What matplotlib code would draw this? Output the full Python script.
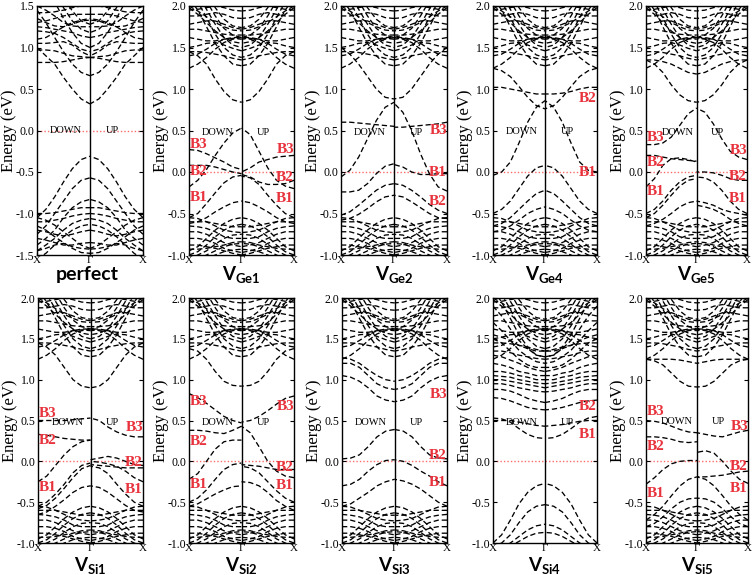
import matplotlib
matplotlib.use('Agg')
import matplotlib.pyplot as plt
from matplotlib.transforms import blended_transform_factory

plt.rcParams['mathtext.fontset'] = 'custom'
plt.rcParams['mathtext.rm'] = 'Lato:bold'
plt.rcParams['mathtext.it'] = 'Lato:bold'
plt.rcParams['mathtext.bf'] = 'Lato:bold'
plt.rcParams['axes.unicode_minus'] = False

# k-path sample points: fraction of the way from X (0) to Gamma (1)
K = [0, 1/6, 2/6, 3/6, 4/6, 5/6, 1]

# ---------------- band data (eV), each band listed X -> Gamma ----------------
PERFECT_CB = [
    [1.00, 0.90, 0.80, 0.64, 0.50, 0.38, 0.32],
    [0.82, 0.82, 0.82, 0.83, 0.85, 0.87, 0.88],
    [1.45, 1.30, 1.12, 0.95, 0.80, 0.70, 0.66],
    [0.97, 0.97, 0.96, 0.93, 0.90, 0.89, 0.88],
    [1.05, 1.05, 1.06, 1.07, 1.03, 0.95, 0.90],
    [1.20, 1.19, 1.17, 1.12, 1.05, 0.98, 0.95],
    [1.25, 1.24, 1.22, 1.20, 1.18, 1.14, 1.12],
    [1.90, 1.75, 1.55, 1.35, 1.18, 1.05, 1.00],
    [2.05, 1.88, 1.68, 1.48, 1.32, 1.22, 1.18],
    [2.20, 2.00, 1.80, 1.60, 1.44, 1.32, 1.28],
    [1.50, 1.45, 1.38, 1.30, 1.26, 1.25, 1.25],
    [1.30, 1.32, 1.35, 1.38, 1.40, 1.40, 1.40],
    [1.42, 1.42, 1.43, 1.45, 1.48, 1.50, 1.50],
    [1.10, 1.12, 1.18, 1.25, 1.30, 1.33, 1.35],
    [1.35, 1.30, 1.26, 1.25, 1.28, 1.32, 1.33],
]
PERFECT_VB = [
    [-1.05, -0.95, -0.80, -0.62, -0.46, -0.35, -0.31],
    [-1.25, -1.15, -1.00, -0.85, -0.70, -0.60, -0.57],
    [-1.38, -1.30, -1.20, -1.05, -0.93, -0.86, -0.83],
    [-1.00, -1.00, -0.99, -0.97, -0.95, -0.93, -0.93],
    [-1.10, -1.10, -1.08, -1.06, -1.03, -1.01, -1.00],
    [-1.45, -1.38, -1.30, -1.20, -1.12, -1.08, -1.06],
    [-1.55, -1.48, -1.38, -1.28, -1.20, -1.15, -1.13],
    [-1.20, -1.22, -1.25, -1.27, -1.25, -1.22, -1.20],
    [-1.30, -1.32, -1.35, -1.38, -1.38, -1.36, -1.35],
    [-1.45, -1.42, -1.38, -1.36, -1.40, -1.42, -1.43],
    [-1.15, -1.20, -1.28, -1.35, -1.42, -1.47, -1.48],
    [-1.05, -1.08, -1.14, -1.22, -1.30, -1.38, -1.42],
]

BG_CB = [
    [2.10, 1.95, 1.75, 1.55, 1.40, 1.30, 1.28],
    [2.20, 2.05, 1.86, 1.66, 1.50, 1.41, 1.38],
    [2.30, 2.15, 1.96, 1.78, 1.62, 1.53, 1.50],
    [2.40, 2.25, 2.06, 1.88, 1.73, 1.65, 1.62],
    [2.50, 2.35, 2.16, 1.98, 1.84, 1.76, 1.74],
    [1.45, 1.45, 1.44, 1.42, 1.40, 1.37, 1.35],
    [1.50, 1.52, 1.55, 1.56, 1.53, 1.49, 1.46],
    [1.72, 1.72, 1.70, 1.68, 1.66, 1.65, 1.65],
    [1.78, 1.80, 1.82, 1.82, 1.78, 1.74, 1.72],
    [1.88, 1.88, 1.90, 1.92, 1.90, 1.86, 1.85],
    [1.95, 1.96, 1.98, 2.00, 1.98, 1.95, 1.94],
    [1.62, 1.60, 1.58, 1.58, 1.60, 1.61, 1.60],
    [1.40, 1.42, 1.48, 1.55, 1.60, 1.62, 1.62],
    [1.25, 1.30, 1.38, 1.48, 1.56, 1.60, 1.62],
    [1.98, 1.90, 1.80, 1.70, 1.62, 1.57, 1.55],
    [2.00, 1.94, 1.87, 1.80, 1.75, 1.71, 1.70],
]
BG_VB = [
    [-0.95, -0.90, -0.80, -0.70, -0.62, -0.57, -0.55],
    [-1.00, -0.96, -0.88, -0.78, -0.70, -0.65, -0.63],
    [-1.05, -1.00, -0.95, -0.87, -0.80, -0.76, -0.75],
    [-1.10, -1.05, -1.00, -0.95, -0.90, -0.87, -0.86],
    [-1.12, -1.08, -1.05, -1.00, -0.96, -0.94, -0.93],
    [-0.55, -0.56, -0.60, -0.65, -0.70, -0.72, -0.73],
    [-0.65, -0.66, -0.68, -0.72, -0.78, -0.80, -0.80],
    [-0.72, -0.72, -0.75, -0.80, -0.85, -0.88, -0.90],
    [-0.80, -0.80, -0.82, -0.86, -0.92, -0.95, -0.97],
    [-0.88, -0.88, -0.90, -0.92, -0.95, -0.98, -1.00],
    [-0.60, -0.60, -0.60, -0.62, -0.64, -0.66, -0.66],
    [-0.93, -0.93, -0.92, -0.90, -0.88, -0.85, -0.84],
]

VGE1_DOWN = [
    [0.27, 0.26, 0.22, 0.17, 0.12, 0.06, 0.03],
    [0.08, 0.08, 0.08, 0.06, 0.03, 0.00, -0.02],
    [-0.18, -0.10, 0.03, 0.20, 0.35, 0.47, 0.53],
    [-0.55, -0.50, -0.38, -0.25, -0.13, -0.06, -0.04],
    [-0.62, -0.60, -0.55, -0.48, -0.42, -0.37, -0.35],
    [1.45, 1.40, 1.30, 1.12, 0.97, 0.87, 0.84],
]
VGE1_UP = [
    [-0.20, -0.17, -0.10, 0.05, 0.25, 0.45, 0.53],
    [0.20, 0.19, 0.18, 0.15, 0.12, 0.05, 0.00],
    [-0.10, -0.14, -0.15, -0.15, -0.12, -0.06, -0.03],
    [-0.55, -0.50, -0.40, -0.28, -0.15, -0.07, -0.05],
    [-0.62, -0.60, -0.55, -0.48, -0.42, -0.37, -0.35],
    [1.45, 1.40, 1.30, 1.12, 0.97, 0.87, 0.84],
]
VGE2_DOWN = [
    [0.60, 0.60, 0.59, 0.58, 0.57, 0.56, 0.55],
    [-0.06, 0.02, 0.18, 0.40, 0.62, 0.78, 0.84],
    [-0.24, -0.24, -0.22, -0.14, -0.02, 0.07, 0.10],
    [-0.52, -0.48, -0.40, -0.31, -0.22, -0.16, -0.14],
    [-0.58, -0.56, -0.51, -0.44, -0.36, -0.30, -0.28],
    [1.50, 1.42, 1.30, 1.15, 1.00, 0.90, 0.88],
]
VGE2_UP = [
    [0.60, 0.58, 0.57, 0.56, 0.55, 0.54, 0.54],
    [-0.23, -0.18, -0.02, 0.22, 0.50, 0.72, 0.83],
    [-0.02, -0.02, -0.03, -0.03, 0.00, 0.06, 0.09],
    [-0.50, -0.46, -0.39, -0.30, -0.22, -0.16, -0.14],
    [-0.56, -0.55, -0.50, -0.43, -0.36, -0.30, -0.28],
    [1.50, 1.42, 1.30, 1.15, 1.00, 0.90, 0.88],
]
VGE4_DOWN = [
    [-0.04, 0.00, 0.12, 0.35, 0.60, 0.78, 0.86],
    [1.02, 1.02, 1.00, 0.98, 0.96, 0.94, 0.94],
    [1.25, 1.22, 1.15, 1.03, 0.90, 0.80, 0.76],
    [-0.50, -0.45, -0.35, -0.20, -0.05, 0.05, 0.08],
    [-0.65, -0.62, -0.55, -0.45, -0.35, -0.26, -0.22],
    [-0.72, -0.70, -0.65, -0.58, -0.50, -0.45, -0.42],
]
VGE4_UP = [
    [0.00, 0.02, 0.12, 0.35, 0.60, 0.78, 0.86],
    [1.02, 1.02, 1.00, 0.97, 0.95, 0.94, 0.94],
    [1.25, 1.22, 1.15, 1.03, 0.90, 0.80, 0.76],
    [-0.50, -0.45, -0.35, -0.20, -0.05, 0.05, 0.08],
    [-0.65, -0.62, -0.55, -0.45, -0.35, -0.26, -0.22],
    [-0.72, -0.70, -0.65, -0.58, -0.50, -0.45, -0.42],
]
VGE5_DOWN = [
    [0.33, 0.33, 0.35, 0.42, 0.56, 0.70, 0.77],
    [0.20, 0.20, 0.18, 0.16, 0.15, 0.14, 0.13],
    [-0.18, -0.08, 0.08, 0.16, 0.17, 0.15, 0.12],
    [-0.50, -0.45, -0.35, -0.22, -0.12, -0.06, -0.04],
    [-0.55, -0.50, -0.40, -0.28, -0.17, -0.10, -0.08],
    [-0.65, -0.62, -0.57, -0.50, -0.42, -0.37, -0.35],
    [1.35, 1.30, 1.20, 1.05, 0.93, 0.86, 0.84],
    [1.35, 1.35, 1.33, 1.30, 1.25, 1.20, 1.18],
]
VGE5_UP = [
    [0.15, 0.18, 0.25, 0.40, 0.58, 0.72, 0.77],
    [-0.10, -0.10, -0.08, -0.04, -0.01, 0.00, 0.00],
    [-0.50, -0.45, -0.35, -0.22, -0.12, -0.07, -0.06],
    [-0.52, -0.50, -0.48, -0.45, -0.40, -0.37, -0.35],
    [-0.65, -0.62, -0.57, -0.50, -0.45, -0.42, -0.40],
    [1.35, 1.30, 1.20, 1.05, 0.93, 0.86, 0.84],
    [1.35, 1.35, 1.33, 1.30, 1.25, 1.20, 1.18],
]
VSI1_DOWN = [
    [0.50, 0.50, 0.50, 0.50, 0.51, 0.52, 0.53],
    [0.33, 0.32, 0.30, 0.28, 0.27, 0.26, 0.26],
    [-0.25, -0.18, -0.05, 0.08, 0.18, 0.24, 0.26],
    [-0.55, -0.50, -0.40, -0.28, -0.14, -0.05, -0.02],
    [-0.58, -0.54, -0.45, -0.33, -0.20, -0.09, -0.05],
    [-0.65, -0.62, -0.55, -0.47, -0.38, -0.32, -0.30],
    [1.45, 1.40, 1.30, 1.15, 1.00, 0.92, 0.90],
]
VSI1_UP = [
    [0.30, 0.30, 0.32, 0.36, 0.42, 0.50, 0.53],
    [-0.05, -0.04, 0.00, 0.04, 0.06, 0.04, 0.02],
    [-0.08, -0.08, -0.08, -0.07, -0.06, -0.05, -0.04],
    [-0.25, -0.20, -0.12, -0.06, -0.03, -0.01, 0.00],
    [-0.55, -0.50, -0.40, -0.28, -0.15, -0.08, -0.06],
    [-0.62, -0.60, -0.54, -0.46, -0.38, -0.32, -0.30],
    [1.45, 1.40, 1.30, 1.15, 1.00, 0.92, 0.90],
]
VSI2_DOWN = [
    [0.83, 0.78, 0.71, 0.63, 0.55, 0.50, 0.47],
    [0.38, 0.38, 0.37, 0.35, 0.34, 0.38, 0.43],
    [-0.22, -0.15, 0.00, 0.15, 0.24, 0.26, 0.26],
    [-0.50, -0.45, -0.35, -0.22, -0.10, -0.04, -0.02],
    [-0.55, -0.52, -0.46, -0.40, -0.35, -0.31, -0.30],
    [1.38, 1.35, 1.25, 1.10, 0.98, 0.93, 0.92],
]
VSI2_UP = [
    [0.80, 0.77, 0.70, 0.62, 0.55, 0.50, 0.48],
    [-0.20, -0.18, -0.12, 0.00, 0.18, 0.35, 0.43],
    [-0.10, -0.10, -0.10, -0.08, -0.06, -0.05, -0.04],
    [-0.50, -0.45, -0.36, -0.25, -0.14, -0.08, -0.06],
    [-0.60, -0.55, -0.48, -0.38, -0.30, -0.26, -0.25],
    [1.38, 1.35, 1.25, 1.10, 0.98, 0.93, 0.92],
]
VSI3_DOWN = [
    [0.03, 0.04, 0.08, 0.18, 0.30, 0.37, 0.39],
    [-0.30, -0.28, -0.22, -0.12, -0.04, 0.01, 0.02],
    [-0.55, -0.52, -0.45, -0.38, -0.30, -0.25, -0.22],
    [1.05, 1.03, 0.98, 0.90, 0.80, 0.75, 0.73],
    [1.20, 1.20, 1.15, 1.05, 0.95, 0.90, 0.88],
    [1.27, 1.25, 1.20, 1.12, 1.05, 1.00, 0.98],
]
VSI3_UP = [
    [0.03, 0.04, 0.08, 0.18, 0.30, 0.37, 0.39],
    [-0.30, -0.25, -0.18, -0.12, -0.05, 0.00, 0.02],
    [-0.55, -0.50, -0.42, -0.34, -0.28, -0.24, -0.22],
    [1.05, 1.03, 0.98, 0.90, 0.80, 0.75, 0.73],
    [1.20, 1.20, 1.15, 1.05, 0.95, 0.90, 0.88],
    [1.27, 1.25, 1.20, 1.12, 1.05, 1.00, 0.98],
]
VSI4_DOWN = [
    [0.53, 0.52, 0.48, 0.40, 0.33, 0.29, 0.28],
    [0.50, 0.50, 0.50, 0.48, 0.46, 0.44, 0.43],
    [0.78, 0.77, 0.74, 0.70, 0.66, 0.64, 0.63],
]
VSI4_UP = [
    [0.55, 0.53, 0.48, 0.40, 0.33, 0.29, 0.28],
    [0.50, 0.50, 0.49, 0.47, 0.45, 0.44, 0.43],
    [0.75, 0.74, 0.72, 0.69, 0.66, 0.64, 0.63],
]
VSI4_CB = [
    [0.88, 0.88, 0.86, 0.82, 0.77, 0.74, 0.72],
    [0.95, 0.95, 0.93, 0.90, 0.88, 0.86, 0.85],
    [1.00, 1.00, 0.98, 0.96, 0.94, 0.92, 0.90],
    [1.05, 1.04, 1.03, 1.00, 0.98, 0.96, 0.95],
    [1.10, 1.10, 1.08, 1.05, 1.03, 1.00, 1.00],
    [1.20, 1.18, 1.15, 1.10, 1.08, 1.05, 1.05],
    [1.30, 1.28, 1.24, 1.20, 1.15, 1.12, 1.10],
    [1.50, 1.45, 1.35, 1.25, 1.18, 1.15, 1.15],
    [1.70, 1.60, 1.48, 1.36, 1.28, 1.22, 1.20],
    [1.90, 1.78, 1.62, 1.48, 1.38, 1.30, 1.28],
    [1.35, 1.35, 1.33, 1.30, 1.28, 1.26, 1.25],
    [1.55, 1.52, 1.48, 1.42, 1.38, 1.35, 1.35],
]
VSI4_VB = [
    [-1.00, -0.90, -0.72, -0.52, -0.38, -0.30, -0.27],
    [-1.05, -1.00, -0.90, -0.75, -0.62, -0.55, -0.53],
    [-1.05, -1.05, -1.00, -0.92, -0.84, -0.79, -0.77],
    [-1.10, -1.08, -1.04, -0.98, -0.92, -0.88, -0.87],
]
VSI5_DOWN = [
    [0.50, 0.49, 0.47, 0.43, 0.39, 0.36, 0.35],
    [0.30, 0.30, 0.29, 0.27, 0.24, 0.23, 0.24],
    [-0.28, -0.20, -0.10, -0.03, 0.00, 0.01, 0.01],
    [-0.72, -0.65, -0.55, -0.42, -0.30, -0.22, -0.19],
    [-0.80, -0.76, -0.68, -0.58, -0.50, -0.46, -0.45],
    [1.25, 1.23, 1.18, 1.08, 0.98, 0.92, 0.91],
    [1.25, 1.25, 1.25, 1.25, 1.24, 1.22, 1.20],
]
VSI5_UP = [
    [0.38, 0.36, 0.33, 0.30, 0.31, 0.33, 0.35],
    [-0.27, -0.22, -0.12, 0.00, 0.10, 0.13, 0.11],
    [-0.12, -0.13, -0.15, -0.17, -0.18, -0.19, -0.19],
    [-0.72, -0.65, -0.55, -0.42, -0.30, -0.22, -0.19],
    [-0.80, -0.76, -0.68, -0.58, -0.50, -0.46, -0.45],
    [1.25, 1.23, 1.18, 1.08, 0.98, 0.92, 0.91],
    [1.25, 1.25, 1.25, 1.25, 1.24, 1.22, 1.20],
]

# defect-band labels: (text, side, energy)
LAB_VGE1 = [('B3', 'L', 0.33), ('B2', 'L', 0.01), ('B1', 'L', -0.31),
            ('B3', 'R', 0.27), ('B2', 'R', -0.07), ('B1', 'R', -0.32)]
LAB_VGE2 = [('B3', 'R', 0.50), ('B1', 'R', 0.00), ('B2', 'R', -0.36)]
LAB_VGE4 = [('B2', 'R', 0.89), ('B1', 'R', 0.00)]
LAB_VGE5 = [('B3', 'L', 0.41), ('B2', 'L', 0.11), ('B1', 'L', -0.24),
            ('B3', 'R', 0.26), ('B2', 'R', -0.05), ('B1', 'R', -0.32)]
LAB_VSI1 = [('B3', 'L', 0.59), ('B2', 'L', 0.25), ('B1', 'L', -0.32),
            ('B3', 'R', 0.41), ('B2', 'R', -0.02), ('B1', 'R', -0.34)]
LAB_VSI2 = [('B3', 'L', 0.73), ('B2', 'L', 0.24), ('B1', 'L', -0.28),
            ('B3', 'R', 0.67), ('B2', 'R', -0.07), ('B1', 'R', -0.30)]
LAB_VSI3 = [('B3', 'R', 0.82), ('B2', 'R', 0.07), ('B1', 'R', -0.26)]
LAB_VSI4 = [('B2', 'R', 0.67), ('B1', 'R', 0.33)]
LAB_VSI5 = [('B3', 'L', 0.61), ('B2', 'L', 0.18), ('B1', 'L', -0.39),
            ('B3', 'R', 0.43), ('B2', 'R', -0.06), ('B1', 'R', -0.33)]

TITLES = ['perfect', 'Ge1', 'Ge2', 'Ge4', 'Ge5', 'Si1', 'Si2', 'Si3', 'Si4', 'Si5']
X_TICK_LABELS = ['X', '\u0393', 'X']

# ---------------- layout (pixels: left, right, top, bottom) ----------------
W, H = 756, 575
BOXES = [
    (37, 143, 6, 255), (189, 294, 6, 255), (341, 447, 6, 255), (493, 597, 6, 255), (646, 747, 6, 255),
    (38, 143, 298, 543), (189, 294, 298, 543), (342, 447, 298, 543), (493, 597, 298, 543), (646, 748, 298, 543),
]

PANELS = [
    dict(both=PERFECT_CB + PERFECT_VB, down=[], up=[], labels=[], ylim=(-1.5, 1.5), dy=0.0, dx=0.55),
    dict(both=BG_CB + BG_VB, down=VGE1_DOWN, up=VGE1_UP, labels=LAB_VGE1, ylim=(-1, 2), dy=0.48, dx=0.55),
    dict(both=BG_CB + BG_VB, down=VGE2_DOWN, up=VGE2_UP, labels=LAB_VGE2, ylim=(-1, 2), dy=0.47, dx=0.55),
    dict(both=BG_CB + BG_VB, down=VGE4_DOWN, up=VGE4_UP, labels=LAB_VGE4, ylim=(-1, 2), dy=0.49, dx=0.55),
    dict(both=BG_CB + BG_VB, down=VGE5_DOWN, up=VGE5_UP, labels=LAB_VGE5, ylim=(-1, 2), dy=0.48, dx=0.63),
    dict(both=BG_CB + BG_VB, down=VSI1_DOWN, up=VSI1_UP, labels=LAB_VSI1, ylim=(-1, 2), dy=0.47, dx=0.57),
    dict(both=BG_CB + BG_VB, down=VSI2_DOWN, up=VSI2_UP, labels=LAB_VSI2, ylim=(-1, 2), dy=0.47, dx=0.55),
    dict(both=BG_CB + BG_VB, down=VSI3_DOWN, up=VSI3_UP, labels=LAB_VSI3, ylim=(-1, 2), dy=0.47, dx=0.55),
    dict(both=BG_CB + VSI4_CB + VSI4_VB, down=VSI4_DOWN, up=VSI4_UP, labels=LAB_VSI4, ylim=(-1, 2), dy=0.47, dx=0.55),
    dict(both=BG_CB + BG_VB, down=VSI5_DOWN, up=VSI5_UP, labels=LAB_VSI5, ylim=(-1, 2), dy=0.49, dx=0.6),
]

SERIF = 'Liberation Serif'
RED = '#e8323c'
DASH = (4.0, 2.2)

fig = plt.figure(figsize=(W / 100, H / 100), dpi=100)


def draw(ax, band, side):
    xs = K if side == 'L' else [2 - k for k in K]
    ax.plot(xs, band, color='black', lw=0.95, dashes=DASH)


for i, (p, box) in enumerate(zip(PANELS, BOXES)):
    l, r, t, b = box
    ax = fig.add_axes([l / W, 1 - b / H, (r - l) / W, (b - t) / H])
    for band in p['both']:
        draw(ax, band, 'L')
        draw(ax, band, 'R')
    for band in p['down']:
        draw(ax, band, 'L')
    for band in p['up']:
        draw(ax, band, 'R')
    ax.axhline(0, color='#ff6b6b', ls=(0, (1, 1.5)), lw=1.0, zorder=1)
    ax.axvline(1, color='black', lw=1.0)
    ax.set_xlim(0, 2)
    ax.set_ylim(*p['ylim'])
    lo, hi = p['ylim']
    ticks = [lo + 0.5 * j for j in range(int(round((hi - lo) / 0.5)) + 1)]
    ax.set_yticks(ticks)
    ax.set_yticklabels(['%.1f' % v for v in ticks], fontfamily=SERIF, fontsize=8.5)
    ax.set_xticks([0, 1, 2])
    ax.set_xticklabels(X_TICK_LABELS, fontfamily=SERIF, fontsize=8)
    ax.tick_params(axis='y', direction='in', length=3, width=0.8, pad=2, right=True)
    ax.tick_params(axis='x', direction='in', length=2, width=0.8, pad=1)
    for s in ax.spines.values():
        s.set_linewidth(1.0)
    ax.set_ylabel('Energy (eV)', fontfamily=SERIF, fontsize=12)
    ax.yaxis.set_label_coords(-20 / (r - l), 0.5)

    # DOWN / UP
    ax.text(p['dx'], p['dy'], 'DOWN', fontfamily=SERIF, fontsize=7.5, ha='center', va='center')
    ax.text(1.42, p['dy'], 'UP', fontfamily=SERIF, fontsize=7.5, ha='center', va='center')

    for txt, side, y in p['labels']:
        if side == 'L':
            ax.text(0.02, y, txt, color=RED, fontfamily=SERIF, fontweight='bold',
                    fontsize=11, ha='left', va='center')
        else:
            ax.text(2.0, y, txt, color=RED, fontfamily=SERIF, fontweight='bold',
                    fontsize=11, ha='right', va='center')

    # panel title
    tr = blended_transform_factory(ax.transData, ax.transAxes)
    ypos = -25 / (b - t) if i < 5 else -28 / (b - t)
    if i == 0:
        ax.text(0.95, ypos, 'perfect', transform=tr, fontfamily='Lato', fontweight='bold',
                fontsize=14, ha='center', va='baseline')
    else:
        ax.text(1.0, ypos, r'$\mathrm{V}_{\mathrm{%s}}$' % TITLES[i], transform=tr,
                fontsize=13.5, ha='center', va='baseline')

fig.savefig('out.png', dpi=100)
